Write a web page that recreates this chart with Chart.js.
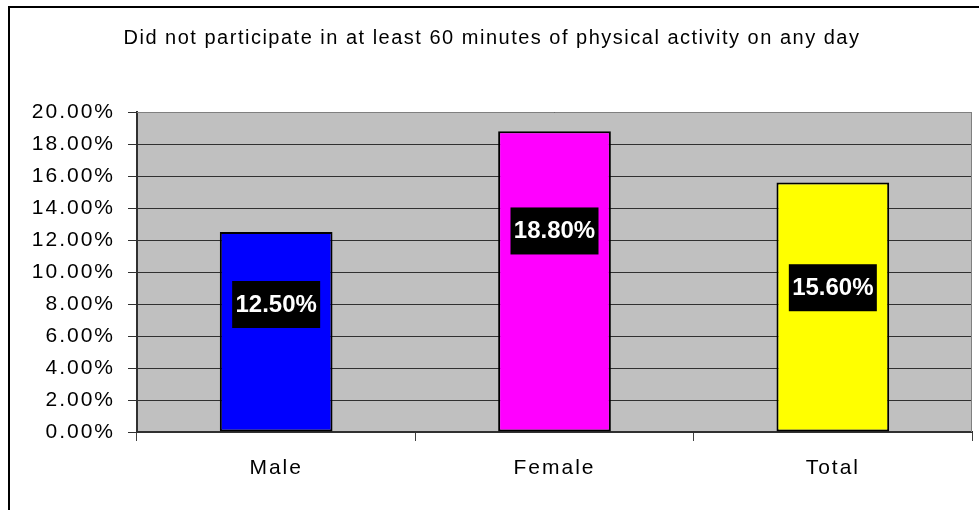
<!DOCTYPE html>
<html>
<head>
<meta charset="utf-8">
<script src="https://cdn.jsdelivr.net/npm/chart.js@4.4.0/dist/chart.umd.min.js"></script>
<style>
  html, body { margin: 0; padding: 0; background: #fff; }
  #wrap { width: 979px; height: 510px; position: relative; }
</style>
</head>
<body>
<div id="wrap"><canvas id="canva1" width="979" height="510"></canvas></div>
<script>
var chartTitle = 'Did not participate in at least 60 minutes of physical activity on any day';
var categories = ['Male', 'Female', 'Total'];
var percents = [12.5, 18.8, 15.6];
var barColors = ['#0000FF', '#FF00FF', '#FFFF00'];
var yTicks = [0, 2, 4, 6, 8, 10, 12, 14, 16, 18, 20];
// where the value box sits, as a share of the bar height
var labelAt = [0.64, 0.67, 0.58];

var frameAndBack = {
    id: 'frameAndBack',
    beforeDraw: function (chart) {
        var c = chart.ctx, a = chart.chartArea;
        c.save();
        c.fillStyle = '#C0C0C0';
        c.fillRect(a.left, a.top, a.right - a.left, a.bottom - a.top);
        c.strokeStyle = '#000';
        c.lineWidth = 2;
        c.beginPath();
        c.moveTo(9, 510);
        c.lineTo(9, 7);
        c.lineTo(979, 7);
        c.stroke();
        // title
        c.letterSpacing = '1.5px';
        c.fillStyle = '#000';
        c.font = '20px Arial, "Liberation Sans"';
        c.textAlign = 'center';
        c.textBaseline = 'middle';
        c.fillText(chartTitle, 492, 38);
        c.restore();
        c.letterSpacing = '2px';
    },
    afterDraw: function (chart) {
        var c = chart.ctx, a = chart.chartArea;
        c.save();
        c.strokeStyle = '#808080';
        c.lineWidth = 1;
        c.beginPath();
        c.moveTo(a.left, a.top + 0.5);
        c.lineTo(a.right, a.top + 0.5);
        c.moveTo(a.right - 0.5, a.top);
        c.lineTo(a.right - 0.5, a.bottom);
        c.stroke();
        c.restore();
    }
};

var valueBoxes = {
    id: 'valueBoxes',
    afterDatasetsDraw: function (chart) {
        var c = chart.ctx;
        var meta = chart.getDatasetMeta(0);
        var y = chart.scales.y;
        c.save();
        c.letterSpacing = '0px';
        c.font = 'bold 24px Arial, "Liberation Sans"';
        c.textAlign = 'center';
        c.textBaseline = 'middle';
        meta.data.forEach(function (bar, i) {
            var cy = y.getPixelForValue(percents[i] * labelAt[i]);
            c.fillStyle = '#000';
            c.fillRect(bar.x - 44, cy - 23, 88, 47);
            c.fillStyle = '#fff';
            c.fillText(percents[i].toFixed(2) + '%', bar.x, cy + 1);
        });
        c.restore();
    }
};

var ctx = document.getElementById('canva1').getContext('2d');
var myChart = new Chart(ctx, {
    type: 'bar',
    data: {
        labels: categories,
        datasets: [{
            data: percents,
            backgroundColor: barColors,
            borderColor: '#000',
            borderWidth: 2,
            borderSkipped: false,
            categoryPercentage: 1,
            barPercentage: 0.405
        }]
    },
    plugins: [frameAndBack, valueBoxes],
    options: {
        responsive: false,
        animation: false,
        layout: { padding: { left: 0, right: 7, top: 112, bottom: 0 } },
        plugins: {
            legend: { display: false },
            tooltip: { enabled: false },
            title: { display: false }
        },
        scales: {
            x: {
                offset: true,
                grid: {
                    offset: true,
                    drawOnChartArea: false,
                    drawTicks: true,
                    tickLength: 9,
                    color: '#404040'
                },
                border: { color: '#303030', width: 2 },
                ticks: {
                    color: '#000',
                    padding: 15,
                    font: { family: 'Arial, "Liberation Sans"', size: 21 }
                },
                afterFit: function (s) { s.height = 78; }
            },
            y: {
                min: 0,
                max: 20,
                afterBuildTicks: function (s) {
                    s.ticks = yTicks.map(function (v) { return { value: v }; });
                },
                grid: {
                    color: '#303030',
                    tickLength: 9
                },
                border: { color: '#303030', width: 2 },
                ticks: {
                    color: '#000',
                    padding: 13,
                    font: { family: 'Arial, "Liberation Sans"', size: 21 },
                    callback: function (v) { return v.toFixed(2) + '%'; }
                },
                afterFit: function (s) { s.width = 137; }
            }
        }
    }
});
</script>
</body>
</html>
